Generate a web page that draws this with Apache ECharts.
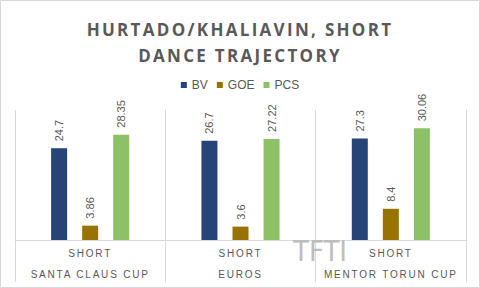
<!DOCTYPE html>
<html>
<head>
<meta charset="utf-8">
<script src="https://cdn.jsdelivr.net/npm/echarts@6/dist/echarts.min.js"></script>
<style>
  html, body { margin: 0; padding: 0; background: #fff; }
  #chart { width: 480px; height: 288px; }
</style>
</head>
<body>
<div id="chart"></div>
<script>
// data
const events = ['SANTA CLAUS CUP', 'EUROS', 'MENTOR TORUN CUP'];
const segment = 'SHORT';
const bv = [24.7, 26.7, 27.3];
const goe = [3.86, 3.6, 8.4];
const pcs = [28.35, 27.22, 30.06];

const grey = '#595959';
const rule = '#d9d9d9';

const chart = echarts.init(document.getElementById('chart'), null, { renderer: 'svg' });

function bar(name, data, color) {
  return {
    name: name,
    type: 'bar',
    data: data,
    barWidth: 16,
    barGap: '94%',
    itemStyle: { color: color },
    label: {
      show: true,
      position: 'top',
      distance: 7,
      rotate: 90,
      align: 'left',
      verticalAlign: 'middle',
      color: grey,
      fontSize: 11,
      fontFamily: 'Liberation Sans'
    }
  };
}

chart.setOption({
  animation: false,
  title: {
    text: 'HURTADO/KHALIAVIN, SHORT\nDANCE TRAJECTORY',
    left: 'center',
    top: 11,
    textStyle: {
      fontFamily: 'Open Sans',
      fontWeight: 'bold',
      fontSize: 17,
      lineHeight: 26,
      color: grey
    }
  },
  legend: {
    top: 74,
    left: 'center',
    icon: 'rect',
    itemWidth: 6,
    itemHeight: 6,
    itemGap: 9,
    textStyle: { color: grey, fontSize: 12, fontFamily: 'Liberation Sans' },
    data: ['BV', 'GOE', 'PCS']
  },
  grid: { left: 15, right: 14, top: 110, bottom: 48 },
  xAxis: {
    type: 'category',
    data: events,
    axisLine: { lineStyle: { color: rule } },
    axisTick: { show: true, interval: 0, length: 42, lineStyle: { color: rule } },
    splitLine: { show: true, interval: 0, lineStyle: { color: rule } },
    axisLabel: {
      interval: 0,
      margin: 3,
      color: grey,
      fontSize: 10,
      lineHeight: 21,
      fontFamily: 'Liberation Sans',
      formatter: v => segment + '\n' + v
    }
  },
  yAxis: { type: 'value', min: 0, max: 35, show: false },
  graphic: [
    {
      type: 'rect',
      shape: { x: 0.5, y: 0.5, width: 479, height: 287 },
      style: { fill: 'none', stroke: rule, lineWidth: 1 },
      silent: true
    },
    {
      type: 'text',
      left: 293,
      top: 236,
      z: 10,
      style: {
        text: 'TFTI',
        font: '29px "Liberation Sans Narrow", "DejaVu Sans Condensed", sans-serif',
        fill: '#bdbdbd'
      },
      silent: true
    }
  ],
  series: [
    bar('BV', bv, '#264478'),
    bar('GOE', goe, '#997300'),
    bar('PCS', pcs, '#8cc168')
  ]
});

// spaced capitals for title and category labels
function spaceLetters() {
  document.querySelectorAll('#chart text').forEach(t => {
    const s = t.textContent;
    if (s === 'HURTADO/KHALIAVIN, SHORT' || s === 'DANCE TRAJECTORY') {
      t.setAttribute('letter-spacing', '2.3');
    } else if (s === segment || events.indexOf(s) >= 0) {
      t.setAttribute('letter-spacing', '1.8');
    }
  });
}
chart.on('finished', spaceLetters);
spaceLetters();
</script>
</body>
</html>
